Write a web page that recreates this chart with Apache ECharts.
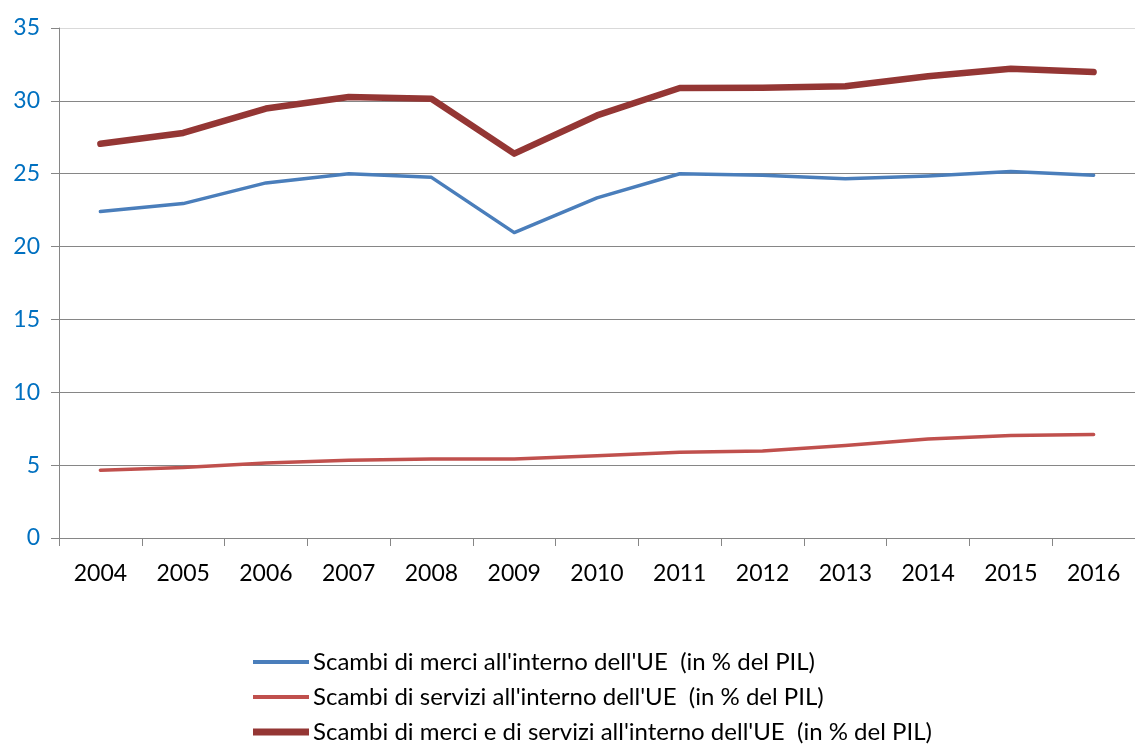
<!DOCTYPE html>
<html>
<head>
<meta charset="utf-8">
<script src="https://cdn.jsdelivr.net/npm/echarts@6/dist/echarts.min.js"></script>
<style>
  html, body { margin: 0; padding: 0; background: #fff; }
  #chart { width: 1135px; height: 745px; }
</style>
</head>
<body>
<div id="chart"></div>
<script>
// categories and values
const years = ['2004', '2005', '2006', '2007', '2008', '2009', '2010', '2011', '2012', '2013', '2014', '2015', '2016'];
const merci = [22.4, 22.95, 24.37, 25.0, 24.75, 20.96, 23.34, 25.0, 24.9, 24.66, 24.85, 25.15, 24.9];
const servizi = [4.65, 4.83, 5.15, 5.33, 5.42, 5.42, 5.65, 5.88, 5.97, 6.34, 6.8, 7.03, 7.1];
const totale = [27.05, 27.8, 29.47, 30.27, 30.15, 26.38, 29.0, 30.88, 30.9, 31.0, 31.69, 32.2, 31.98];

const names = [
    "Scambi di merci all'interno dell'UE  (in % del PIL)",
    "Scambi di servizi all'interno dell'UE  (in % del PIL)",
    "Scambi di merci e di servizi all'interno dell'UE  (in % del PIL)"
];
// legend stroke thickness per item
const legendIcons = [
    'path://M0,5 L56,5 L56,9 L0,9 Z',
    'path://M0,5 L56,5 L56,9 L0,9 Z',
    'path://M0,3.5 L56,3.5 L56,10.5 L0,10.5 Z'
];

const font = 'Lato, "Open Sans", sans-serif';

let chart = echarts.init(document.getElementById('chart'), null, { renderer: 'canvas' });

const mkSeries = (name, data, color, width) => ({
    name: name,
    type: 'line',
    data: data,
    symbol: 'none',
    animation: false,
    lineStyle: { color: color, width: width, cap: 'round', join: 'round' },
    itemStyle: { color: color }
});

chart.setOption({
    animation: false,
    grid: { left: 59, top: 28, right: -10, bottom: 207, containLabel: false },
    legend: {
        orient: 'vertical',
        left: 253,
        top: 649,
        height: 150,
        padding: 0,
        itemWidth: 56,
        itemHeight: 14,
        itemGap: 9,
        textStyle: { fontFamily: font, fontSize: 24, lineHeight: 26, color: '#000', padding: [0, 0, 0, -1] },
        data: names.map((n, i) => ({ name: n, icon: legendIcons[i] }))
    },
    xAxis: {
        type: 'category',
        data: years,
        boundaryGap: true,
        axisLine: { lineStyle: { color: '#868686', width: 1 } },
        axisTick: { show: true, length: 8, lineStyle: { color: '#868686' } },
        axisLabel: { fontFamily: font, fontSize: 23, color: '#000', margin: 24 }
    },
    yAxis: {
        type: 'value',
        min: 0,
        max: 35,
        interval: 5,
        axisLine: { show: true, lineStyle: { color: '#868686', width: 1 } },
        axisTick: { show: true, length: 8, lineStyle: { color: '#868686' } },
        axisLabel: { fontFamily: font, fontSize: 23, color: '#0070c0', margin: 19 },
        splitLine: {
            show: true,
            lineStyle: { color: ['#868686', '#868686', '#868686', '#868686', '#868686', '#868686', '#868686', '#d9d9d9'], width: 1 }
        }
    },
    series: [
        mkSeries(names[0], merci, '#4a7ebb', 3.5),
        mkSeries(names[1], servizi, '#c0504d', 3.5),
        mkSeries(names[2], totale, '#943634', 6.5)
    ]
});
</script>
</body>
</html>
